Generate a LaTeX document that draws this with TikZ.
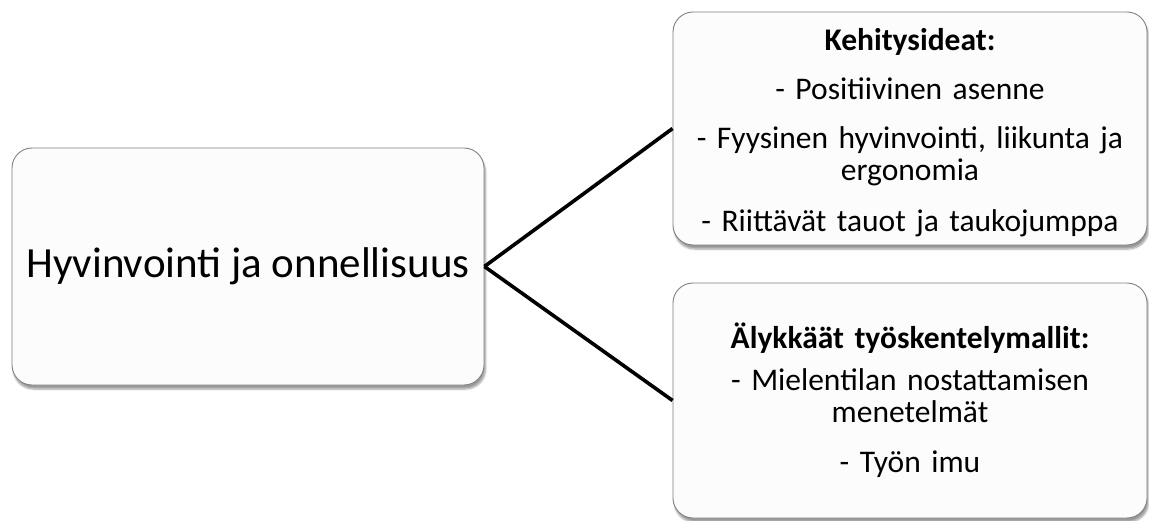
\documentclass[tikz,border=0pt]{standalone}
\usepackage{fontspec}
\setmainfont{Carlito}
\usetikzlibrary{shadows,shadows.blur}
\begin{document}
\begin{tikzpicture}[x=1pt,y=-1pt,
  box/.style={draw=black!50, line width=0.9pt, fill=black!1, rounded corners=20pt,
    blur shadow={shadow xshift=1.5pt, shadow yshift=-4pt, shadow blur steps=6, shadow opacity=40},
    inner sep=0pt, align=center},
  sidetext/.style={inner sep=0pt, align=center, text width=460pt, font=\fontsize{31.5}{32}\selectfont},
  conn/.style={line width=3.6pt, black}]
\useasboundingbox (0,0) rectangle (1149,521);
\node[box, minimum width=472pt, minimum height=237pt, font=\fontsize{43}{52}\selectfont] (main) at (248,266.5) {Hyvinvointi ja onnellisuus};
\node[box, minimum width=474pt, minimum height=233pt] (top) at (910,128.5) {};
\node[box, minimum width=474pt, minimum height=235pt] (bot) at (910,400.5) {};
\node[sidetext] (toptext) at ([yshift=-4pt]top.center)
  {\textbf{Kehitysideat:}\\[17pt] - Positiivinen asenne\\[17pt] - Fyysinen hyvinvointi, liikunta ja\\ ergonomia\\[19pt] - Riittävät tauot ja taukojumppa};
\node[sidetext] (bottext) at (bot.center)
  {\textbf{Älykkäät työskentelymallit:}\\[10pt] - Mielentilan nostattamisen\\ menetelmät\\[18pt] - Työn imu};
\draw[conn] (main.east) -- (top.west);
\draw[conn] (main.east) -- (bot.west);
\end{tikzpicture}
\end{document}
